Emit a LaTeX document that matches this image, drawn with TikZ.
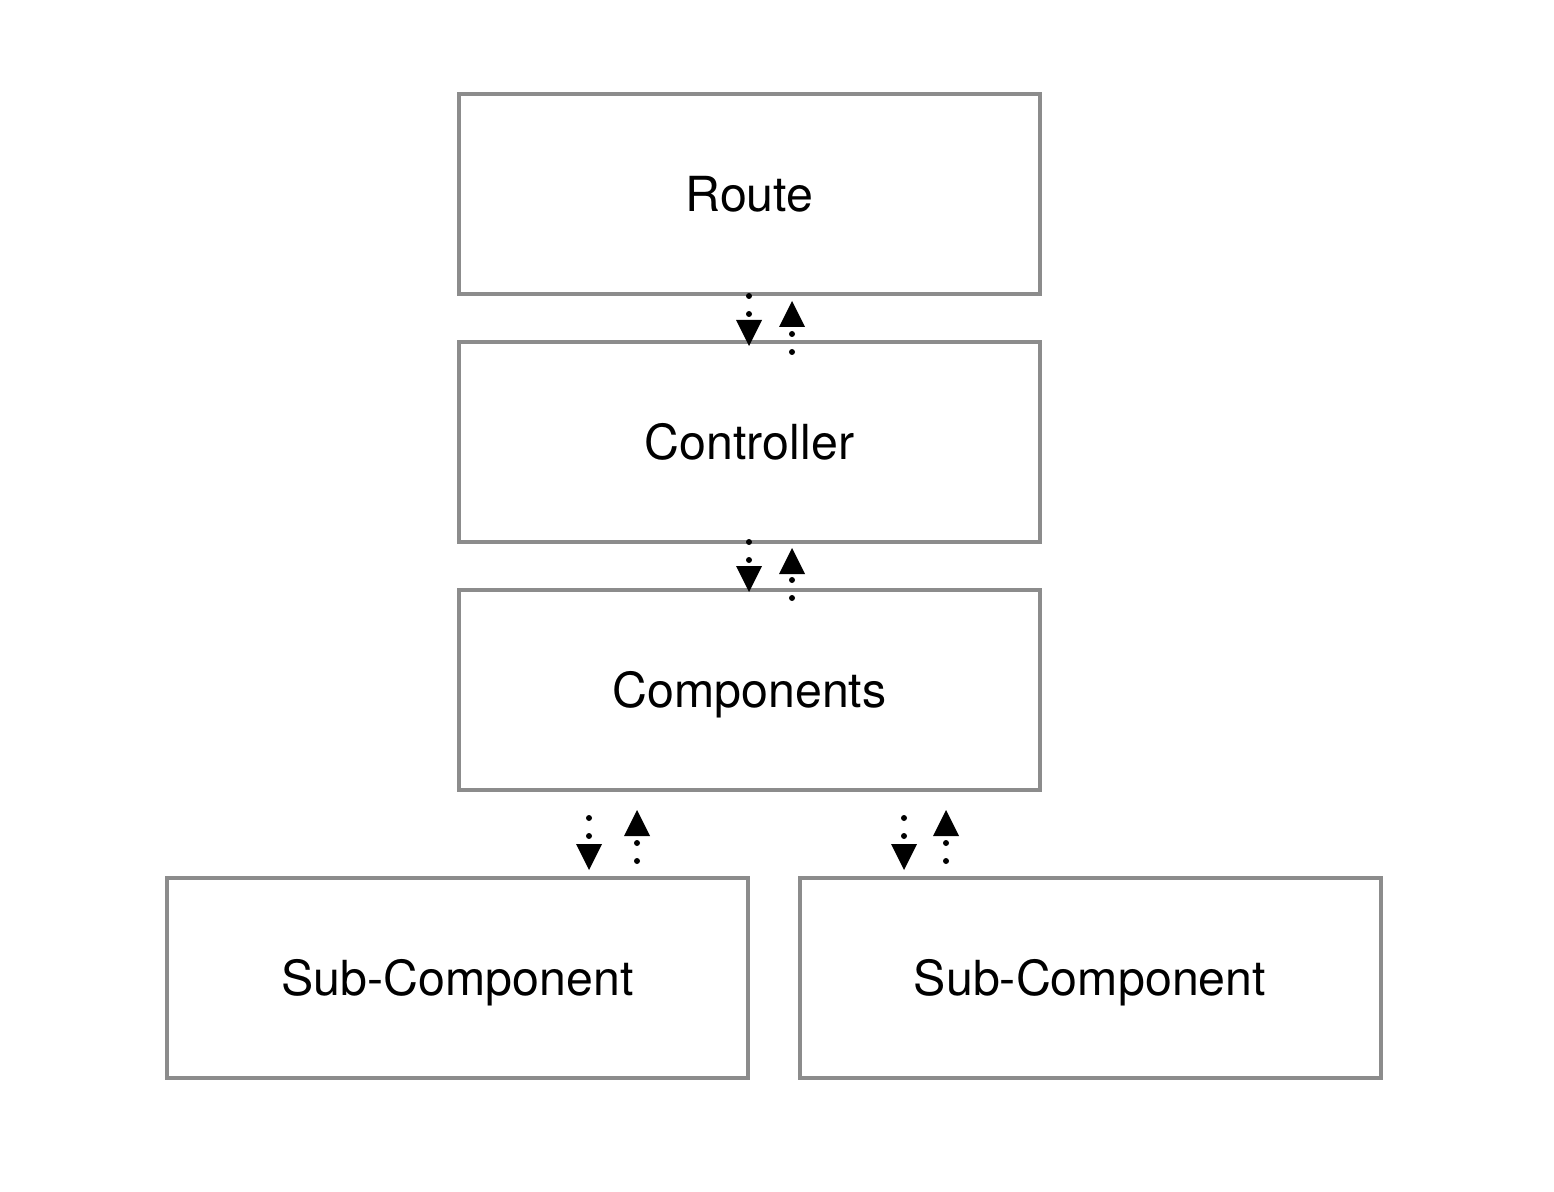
\documentclass[tikz,border=0pt]{standalone}
\usepackage{fontspec}
\setmainfont{TeX Gyre Heros}
\usetikzlibrary{arrows.meta,calc}

\begin{document}
\begin{tikzpicture}[x=0.02cm,y=-0.02cm]

% Parameters
\def\px{0.02cm}

% Styles
\tikzset{
  layer/.style={draw=black!45, line width=4*\px, outer sep=0pt,
    minimum width=581*\px, minimum height=200*\px,
    font=\fontsize{27.5pt}{32pt}\selectfont, text height=19.8pt, text depth=-2.4pt},
  flow/.style={line width=6*\px, line cap=round, dash pattern=on 0pt off 18*\px,
    -{Triangle[width=26*\px, length=26*\px, line width=0pt]}}
}

% Page frame
\useasboundingbox (0,0) rectangle (1554,1192);

% Layers
\node[layer] (route) at (749.5,194) {Route};
\node[layer] (ctrl)  at (749.5,442) {Controller};
\node[layer] (comp)  at (749.5,690) {Components};
\node[layer] (subl)  at (457.5,978) {Sub-Component};
\node[layer] (subr)  at (1090,978)  {Sub-Component};

% Route <-> Controller
\coordinate (rd) at ([xshift=-0.5*\px]route.south);
\coordinate (ru) at ([xshift=42.5*\px]route.south);
\draw[flow, shorten <=2*\px, shorten >=-4*\px] (rd) -- (rd |- ctrl.north);
\draw[flow, shorten <=-10*\px, shorten >=7*\px] (ru |- ctrl.north) -- (ru);

% Controller <-> Components
\coordinate (cd) at ([xshift=-0.5*\px]ctrl.south);
\coordinate (cu) at ([xshift=42.5*\px]ctrl.south);
\draw[flow, shorten <=0*\px, shorten >=-2*\px] (cd) -- (cd |- comp.north);
\draw[flow, shorten <=-8*\px, shorten >=6*\px] (cu |- comp.north) -- (cu);

% Components <-> Sub-Components
\coordinate (ld) at ([xshift=-160.5*\px]comp.south);
\coordinate (lu) at ([xshift=-112.5*\px]comp.south);
\coordinate (sd) at ([xshift=154.5*\px]comp.south);
\coordinate (su) at ([xshift=196.5*\px]comp.south);
\draw[flow, shorten <=28*\px, shorten >=8*\px] (ld) -- (ld |- subl.north);
\draw[flow, shorten <=17*\px, shorten >=20*\px] (lu |- subl.north) -- (lu);
\draw[flow, shorten <=28*\px, shorten >=8*\px] (sd) -- (sd |- subr.north);
\draw[flow, shorten <=17*\px, shorten >=20*\px] (su |- subr.north) -- (su);

\end{tikzpicture}
\end{document}
